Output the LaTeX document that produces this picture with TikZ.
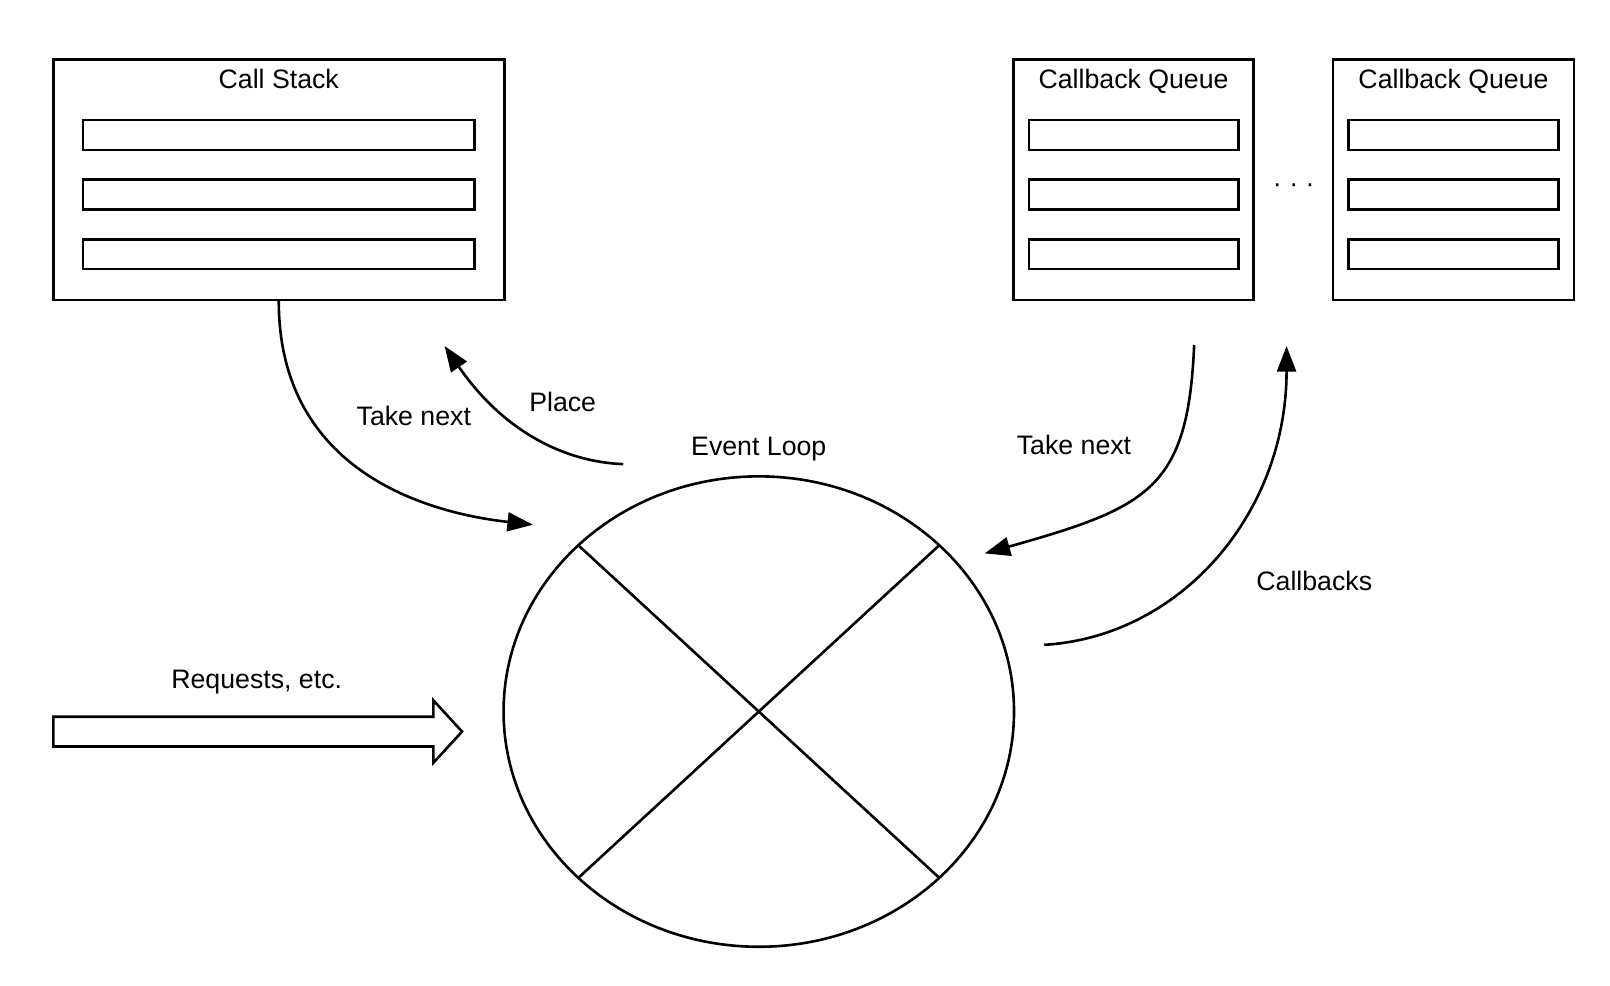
\documentclass[tikz,border=0pt]{standalone}
\usepackage{fontspec}
\setmainfont{Liberation Sans}
\usetikzlibrary{arrows.meta,shapes.geometric,positioning}

\begin{document}
\begin{tikzpicture}[x=0.025cm,y=-0.025cm,line width=1.8pt,
	>={Triangle[length=0.62cm,width=0.46cm]}]
	\tikzstyle{every node}=[font=\fontsize{18.5}{22}\selectfont]
	\tikzstyle{frame}=[draw,rectangle,inner sep=0pt,minimum height=5.85cm]
	\tikzstyle{slot}=[draw,rectangle,inner sep=0pt,minimum height=0.725cm]
	\tikzstyle{title}=[inner sep=0pt,anchor=north]
	\tikzstyle{lbl}=[inner sep=0pt,anchor=base]

	\useasboundingbox (0,0) rectangle (1568,960);

	% stack and queues
	\node[frame,minimum width=10.975cm] (cs) at (271.5,175) {};
	\node[frame,minimum width=5.85cm] (cq1) at (1104,175) {};
	\node[frame,minimum width=5.875cm] (cq2) [right=1.862cm of cq1] {};
	\node[title] (cst) [below=0.24cm of cs.north] {Call Stack};
	\node[title] (cq1t) [below=0.24cm of cq1.north] {Callback Queue};
	\node[title] (cq2t) [below=0.24cm of cq2.north] {Callback Queue};
	\foreach \b/\w in {cs/9.525cm,cq1/5.1cm,cq2/5.1cm}
		\foreach \s [count=\i] in {1.0875cm,-0.3625cm,-1.8125cm}
			\node[slot,minimum width=\w,yshift=\s] (\b-\i) at (\b.center) {};
	\node[lbl] (dots) at (1260,187) {· · ·};

	% event loop
	\node[draw,ellipse,inner sep=0pt,minimum width=12.425cm,minimum height=11.45cm] (loop) at (739,693) {};
	\path (loop.center) +(45:6.2125cm and 5.725cm) coordinate (ne)
		+(135:6.2125cm and 5.725cm) coordinate (nw)
		+(225:6.2125cm and 5.725cm) coordinate (sw)
		+(315:6.2125cm and 5.725cm) coordinate (se);
	\draw (nw) -- (se);
	\draw (ne) -- (sw);
	\node[lbl] (looplbl) at (739,444) {Event Loop};

	% requests
	\draw (52,698) -- (422,698) -- (422,682) -- (450,712.5) -- (422,743) -- (422,727) -- (52,727) -- cycle;
	\node[lbl] (req) at (250,671) {Requests, etc.};

	% connectors
	\coordinate (tnA) at (519,511);
	\coordinate (plA) at (607,452);
	\coordinate (plB) at (433,337);
	\coordinate (tnB) at (1163,336);
	\coordinate (tnC) at (959,539);
	\coordinate (cbA) at (1017,628);
	\coordinate (cbB) at (1253,337);

	\draw[->] (cs.south) .. controls +(0,168) and +(-99,-11) .. (tnA);
	\draw[->] (plA) .. controls +(-57,-2) and +(57,83) .. (plB);
	\draw[->] (tnB) .. controls +(-6,140) and +(160,-45) .. (tnC);
	\draw[->] (cbA) .. controls +(133,-8) and +(0,163) .. (cbB);

	\node[lbl] (tnAl) at (403,414) {Take next};
	\node[lbl] (pll) at (548,401) {Place};
	\node[lbl] (tnBl) at (1046,443) {Take next};
	\node[lbl] (cbl) at (1280,575) {Callbacks};
\end{tikzpicture}
\end{document}
